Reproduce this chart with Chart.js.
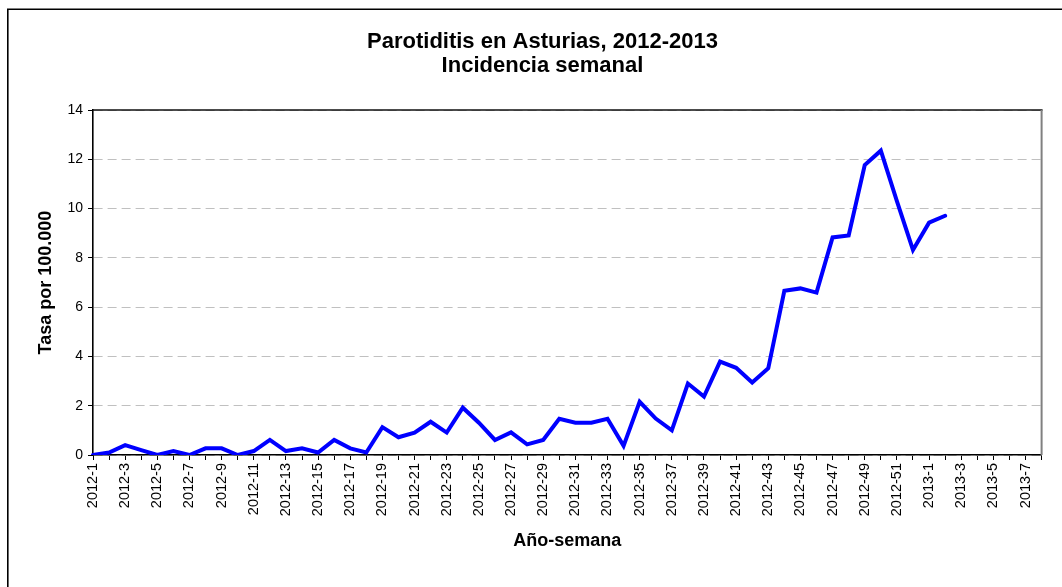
<!DOCTYPE html>
<html lang="es">
<head>
<meta charset="utf-8">
<title>Parotiditis en Asturias, 2012-2013</title>
<script src="https://cdn.jsdelivr.net/npm/chart.js@4/dist/chart.umd.min.js"></script>
<style>
  html, body { margin: 0; padding: 0; background: #ffffff; }
  #wrap { width: 1062px; height: 587px; }
</style>
</head>
<body>
<div id="wrap"><canvas id="chart" width="1062" height="587"></canvas></div>
<script>
// Weekly labels: 2012-1 … 2012-52, then 2013-1 … 2013-8
const weeks2012 = Array.from({ length: 52 }, (_, i) => '2012-' + (i + 1));
const weeks2013 = Array.from({ length: 8 }, (_, i) => '2013-' + (i + 1));
const weekLabels = weeks2012.concat(weeks2013);

// Weekly incidence rate per 100.000 inhabitants (2012-1 … 2013-2)
const rate2012 = [
  0, 0.1, 0.4, 0.2, 0, 0.16, 0, 0.27, 0.27, 0,
  0.16, 0.61, 0.16, 0.27, 0.1, 0.61, 0.27, 0.1, 1.13, 0.72,
  0.91, 1.35, 0.91, 1.92, 1.31, 0.61, 0.92, 0.43, 0.61, 1.47,
  1.31, 1.31, 1.47, 0.37, 2.16, 1.48, 1.0, 2.9, 2.37, 3.79,
  3.54, 2.94, 3.52, 6.66, 6.76, 6.59, 8.83, 8.91, 11.77, 12.35,
  10.3, 8.32
];
const rate2013 = [9.43, 9.71, null, null, null, null, null, null];
const rateSeries = rate2012.concat(rate2013);

// Y axis ticks
const yTicks = [0, 2, 4, 6, 8, 10, 12, 14];

const chartTitle = ['Parotiditis en Asturias, 2012-2013', 'Incidencia semanal'];
const xTitle = 'Año-semana';
const yTitle = 'Tasa por 100.000';

const FONT = '"Liberation Sans", Arial, sans-serif';

// Two-line heading, centred over the figure body
const headingPlugin = {
  id: 'heading',
  afterDraw(chart) {
    const { ctx } = chart;
    ctx.save();
    ctx.fillStyle = '#000000';
    ctx.font = 'bold 22px ' + FONT;
    ctx.textAlign = 'center';
    ctx.textBaseline = 'middle';
    chartTitle.forEach((line, i) => ctx.fillText(line, 542.5, 42 + i * 23.5));
    ctx.restore();
  }
};

// Outer frame of the figure and the top/right edges of the plot area
const framePlugin = {
  id: 'frame',
  afterDraw(chart) {
    const { ctx, chartArea: a } = chart;
    ctx.save();
    ctx.lineCap = 'butt';
    ctx.strokeStyle = '#111111';
    ctx.lineWidth = 1.5;
    ctx.beginPath();
    ctx.moveTo(a.left, a.top);
    ctx.lineTo(a.right + 1, a.top);
    ctx.stroke();
    ctx.strokeStyle = '#808080';
    ctx.lineWidth = 2;
    ctx.beginPath();
    ctx.moveTo(a.right, a.top);
    ctx.lineTo(a.right, a.bottom);
    ctx.stroke();
    ctx.strokeStyle = '#000000';
    ctx.lineWidth = 1.6;
    ctx.beginPath();
    ctx.moveTo(chart.width + 2, 9.3);
    ctx.lineTo(7.8, 9.3);
    ctx.lineTo(7.8, chart.height + 2);
    ctx.stroke();
    ctx.restore();
  }
};

new Chart(document.getElementById('chart'), {
  type: 'line',
  data: {
    labels: weekLabels,
    datasets: [{
      label: yTitle,
      data: rateSeries,
      borderColor: '#0000ff',
      backgroundColor: '#0000ff',
      borderWidth: 4,
      pointRadius: 0,
      pointHoverRadius: 0,
      tension: 0,
      fill: false,
      borderJoinStyle: 'miter',
      borderCapStyle: 'round'
    }]
  },
  options: {
    responsive: false,
    animation: false,
    events: [],
    layout: { padding: { left: 0, right: 13, top: 110, bottom: 0 } },
    plugins: {
      legend: { display: false },
      tooltip: { enabled: false },
      title: { display: false }
    },
    scales: {
      x: {
        type: 'category',
        offset: false,
        afterFit(scale) { scale.height = 132; },
        grid: {
          display: true,
          drawOnChartArea: false,
          drawTicks: true,
          tickLength: 5,
          tickColor: '#000000',
          tickWidth: 1
        },
        border: { display: true, color: '#000000', width: 1.6 },
        ticks: {
          autoSkip: false,
          minRotation: 90,
          maxRotation: 90,
          padding: 3,
          color: '#000000',
          font: { family: FONT, size: 14.5 },
          callback(value, index) {
            return index % 2 === 0 ? this.getLabelForValue(value) : '';
          }
        },
        title: {
          display: true,
          text: xTitle,
          color: '#000000',
          font: { family: FONT, size: 18, weight: 'bold' },
          padding: { top: 4, bottom: 35 }
        }
      },
      y: {
        min: 0,
        max: 14,
        afterFit(scale) { scale.width = 93; },
        afterBuildTicks(scale) {
          scale.ticks = yTicks.map(v => ({ value: v }));
        },
        grid: {
          display: true,
          drawOnChartArea: true,
          drawTicks: true,
          color: '#c0c0c0',
          lineWidth: 1,
          tickLength: 5,
          tickColor: '#000000',
          tickWidth: 1,
          tickBorderDash: []
        },
        border: { display: true, color: '#000000', width: 1.6, dash: [9, 5] },
        ticks: {
          padding: 5,
          color: '#000000',
          font: { family: FONT, size: 14 }
        },
        title: {
          display: true,
          text: yTitle,
          color: '#000000',
          font: { family: FONT, size: 18, weight: 'bold' },
          padding: { top: 35, bottom: 4 }
        }
      }
    }
  },
  plugins: [headingPlugin, framePlugin]
});
</script>
</body>
</html>
